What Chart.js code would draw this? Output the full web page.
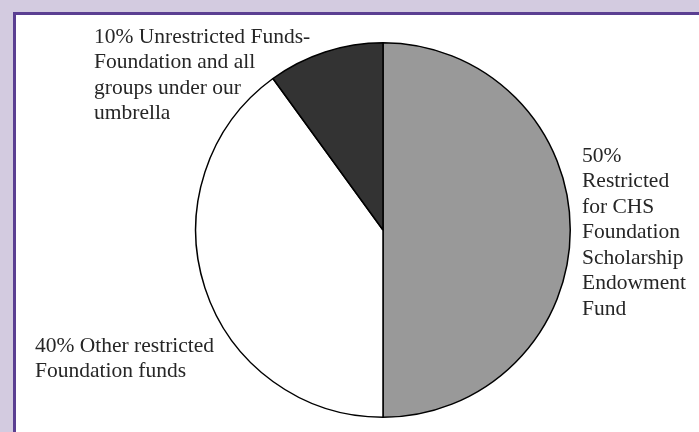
<!DOCTYPE html>
<html>
<head>
<meta charset="utf-8">
<script src="https://cdn.jsdelivr.net/npm/chart.js@4.4.1/dist/chart.umd.min.js"></script>
<style>
  html, body { margin: 0; padding: 0; background: #d3cbe0; overflow: hidden; }
  #wrap { position: absolute; left: 0; top: 0; width: 699px; height: 432px; }
</style>
</head>
<body>
<div id="wrap"><canvas id="pie" width="699" height="432"></canvas></div>
<script>
// --- data ---------------------------------------------------------------
var shares = [50, 40, 10];
var sliceColors = ['#999999', '#ffffff', '#333333'];
var sliceLabels = [
  ['50%', 'Restricted', 'for CHS', 'Foundation', 'Scholarship', 'Endowment', 'Fund'],
  ['40% Other restricted', 'Foundation funds'],
  ['10% Unrestricted Funds-', 'Foundation and all', 'groups under our', 'umbrella']
];

// where each label block starts (left x, middle of first line)
var labelSpots = [
  { x: 582, y: 156 },
  { x: 35,  y: 346 },
  { x: 94,  y: 37 }
];

// --- frame: lavender outside, purple rule, white panel ------------------
var framePlugin = {
  id: 'frame',
  beforeDraw: function(chart) {
    var ctx = chart.ctx;
    ctx.save();
    ctx.fillStyle = '#d3cbe0';
    ctx.fillRect(0, 0, chart.width, chart.height);
    ctx.fillStyle = '#5b3f92';
    ctx.fillRect(13, 12, chart.width - 13, chart.height - 12);
    ctx.fillStyle = '#ffffff';
    ctx.fillRect(16, 15, chart.width - 16, chart.height - 15);
    ctx.restore();
  }
};

// --- slice labels -------------------------------------------------------
var labelPlugin = {
  id: 'sliceText',
  afterDraw: function(chart) {
    var ctx = chart.ctx;
    ctx.save();
    ctx.font = '21.5px "Liberation Serif", "Times New Roman", serif';
    ctx.fillStyle = '#262626';
    ctx.textAlign = 'left';
    ctx.textBaseline = 'middle';
    sliceLabels.forEach(function(lines, i) {
      var p = labelSpots[i];
      lines.forEach(function(t, k) {
        ctx.fillText(t, p.x, p.y + k * 25.5);
      });
    });
    ctx.restore();
  }
};

new Chart(document.getElementById('pie').getContext('2d'), {
  type: 'pie',
  plugins: [framePlugin, labelPlugin],
  data: {
    labels: ['Restricted for CHS Foundation Scholarship Endowment Fund', 'Other restricted Foundation funds', 'Unrestricted Funds'],
    datasets: [{
      data: shares,
      backgroundColor: sliceColors,
      borderColor: '#000000',
      borderWidth: 1.5
    }]
  },
  options: {
    responsive: false,
    animation: false,
    layout: { padding: { top: 41, bottom: 13, left: 195, right: 128 } },
    plugins: {
      legend: { display: false },
      tooltip: { enabled: false }
    }
  }
});
</script>
</body>
</html>
